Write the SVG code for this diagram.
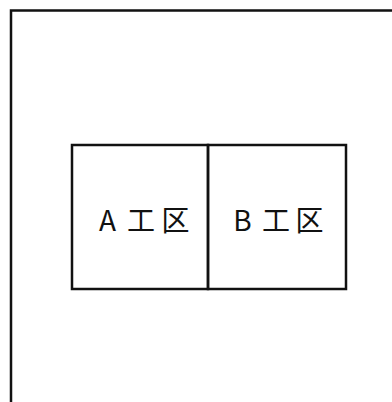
<svg xmlns="http://www.w3.org/2000/svg" width="392" height="402" viewBox="0 0 392 402">
<style>
.ln{fill:none;stroke:#111;stroke-width:2.5}
.lb{font-family:"Noto Sans CJK JP","Noto Sans",sans-serif;font-size:28px;fill:#111;text-anchor:middle}
</style>
<rect width="392" height="402" fill="#fff"/>
<g id="frame">
<path class="ln" d="M11,402 V10.5 H392"/>
</g>
<g id="zoneA">
<rect class="ln" x="72" y="145" width="136" height="144"/>
<text class="lb" x="107.5 141 175.5" y="231">A工区</text>
</g>
<g id="zoneB">
<rect class="ln" x="208" y="145" width="138" height="144"/>
<text class="lb" x="242.5 276 309.5" y="231">B工区</text>
</g>
<g id="connectors"></g>
</svg>
